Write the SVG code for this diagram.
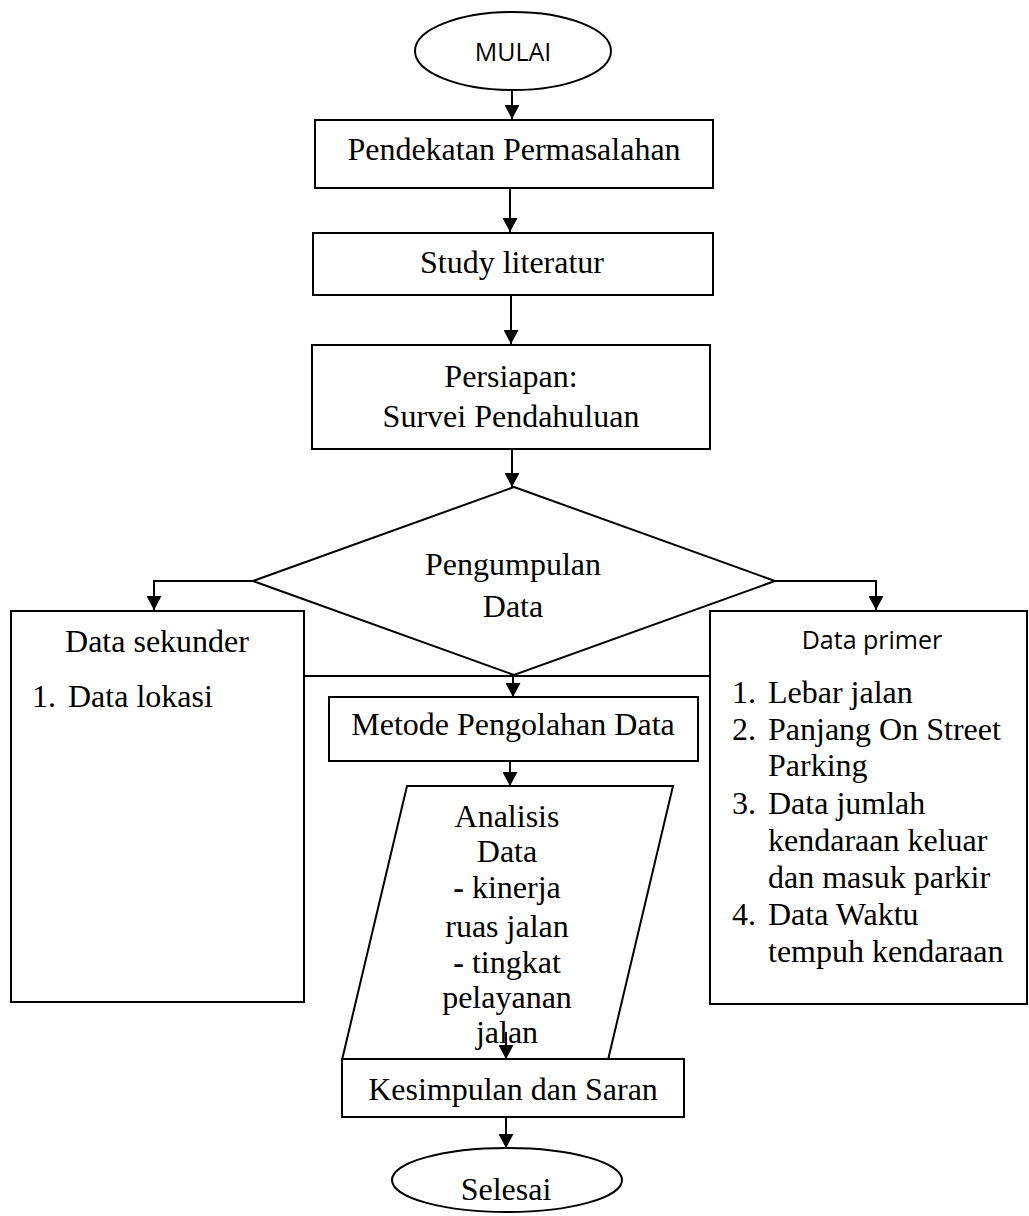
<svg xmlns="http://www.w3.org/2000/svg" width="1029" height="1216" viewBox="0 0 1029 1216">
<style>
.s{fill:#fff;stroke:#000;stroke-width:2}
.t{font-family:"Liberation Serif","Times New Roman",serif;font-size:32px;fill:#000}
.c{text-anchor:middle}
.sans{font-family:"Open Sans","Liberation Sans",sans-serif;font-size:25px;fill:#000}
.ln{fill:none;stroke:#000;stroke-width:2}
</style>
<defs>
<marker id="ah" markerWidth="14" markerHeight="15" refX="14" refY="7.5" orient="auto" markerUnits="userSpaceOnUse">
<path d="M0,0 L14,7.5 L0,15 Z" fill="#000"/>
</marker>
</defs>
<g id="n-mulai"><ellipse class="s" cx="513" cy="51" rx="98" ry="39"/><text class="sans c" x="513" y="61">MULAI</text></g>
<g id="n-pendekatan"><rect class="s" x="315" y="120" width="398" height="68"/><text class="t c" x="514" y="160">Pendekatan Permasalahan</text></g>
<g id="n-study"><rect class="s" x="313" y="233" width="400" height="62"/><text class="t c" x="512" y="273">Study literatur</text></g>
<g id="n-persiapan"><rect class="s" x="312" y="345" width="398" height="104"/><text class="t c" x="511" y="387">Persiapan:</text><text class="t c" x="511" y="427">Survei Pendahuluan</text></g>
<g id="n-sekunder"><rect class="s" x="11" y="611" width="293" height="391"/><text class="t c" x="157" y="652">Data sekunder</text><text class="t" x="32" y="707">1.</text><text class="t" x="68" y="707">Data lokasi</text></g>
<g id="n-primer"><rect class="s" x="710" y="611" width="317" height="393"/><text class="sans c" x="872" y="649">Data primer</text>
<text class="t" x="732" y="703">1.</text><text class="t" x="768" y="703">Lebar jalan</text>
<text class="t" x="732" y="740">2.</text><text class="t" x="768" y="740">Panjang On Street</text>
<text class="t" x="768" y="776">Parking</text>
<text class="t" x="732" y="814">3.</text><text class="t" x="768" y="814">Data jumlah</text>
<text class="t" x="768" y="851">kendaraan keluar</text>
<text class="t" x="768" y="888">dan masuk parkir</text>
<text class="t" x="732" y="925">4.</text><text class="t" x="768" y="925">Data Waktu</text>
<text class="t" x="768" y="962">tempuh kendaraan</text></g>
<g id="n-pengumpulan"><polygon class="s" points="514,487 775,581 514,675 253,581"/><text class="t c" x="513" y="575">Pengumpulan</text><text class="t c" x="513" y="617">Data</text></g>
<g id="n-metode"><rect class="s" x="329" y="697" width="369" height="64"/><text class="t c" x="513" y="735">Metode Pengolahan Data</text></g>
<g id="n-analisis"><polygon class="s" points="407,786 673,786 608,1060 342,1060"/>
<text class="t c" x="507" y="827">Analisis</text>
<text class="t c" x="507" y="862">Data</text>
<text class="t c" x="507" y="898"><tspan font-weight="bold">-</tspan> kinerja</text>
<text class="t c" x="507" y="937">ruas jalan</text>
<text class="t c" x="507" y="973"><tspan font-weight="bold">-</tspan> tingkat</text>
<text class="t c" x="507" y="1008">pelayanan</text>
<text class="t c" x="507" y="1043">jalan</text></g>
<g id="n-kesimpulan"><rect class="s" x="342" y="1059" width="342" height="58"/><text class="t c" x="513" y="1100">Kesimpulan dan Saran</text></g>
<g id="n-selesai"><ellipse class="s" cx="507" cy="1180" rx="115" ry="32"/><text class="t c" x="506" y="1200">Selesai</text></g>
<g id="connectors">
<line class="ln" x1="512" y1="90" x2="512" y2="119" marker-end="url(#ah)"/>
<line class="ln" x1="510" y1="188" x2="510" y2="232" marker-end="url(#ah)"/>
<line class="ln" x1="511" y1="295" x2="511" y2="344" marker-end="url(#ah)"/>
<line class="ln" x1="512" y1="449" x2="512" y2="487" marker-end="url(#ah)"/>
<polyline class="ln" points="253,581 154,581 154,610" marker-end="url(#ah)"/>
<polyline class="ln" points="775,581 876,581 876,610" marker-end="url(#ah)"/>
<line class="ln" x1="304" y1="676" x2="710" y2="676"/>
<line class="ln" x1="513" y1="675" x2="513" y2="697" marker-end="url(#ah)"/>
<line class="ln" x1="510" y1="761" x2="510" y2="786" marker-end="url(#ah)"/>
<line class="ln" x1="506" y1="1032" x2="506" y2="1059" marker-end="url(#ah)"/>
<line class="ln" x1="506" y1="1117" x2="506" y2="1148" marker-end="url(#ah)"/>
</g>
</svg>
